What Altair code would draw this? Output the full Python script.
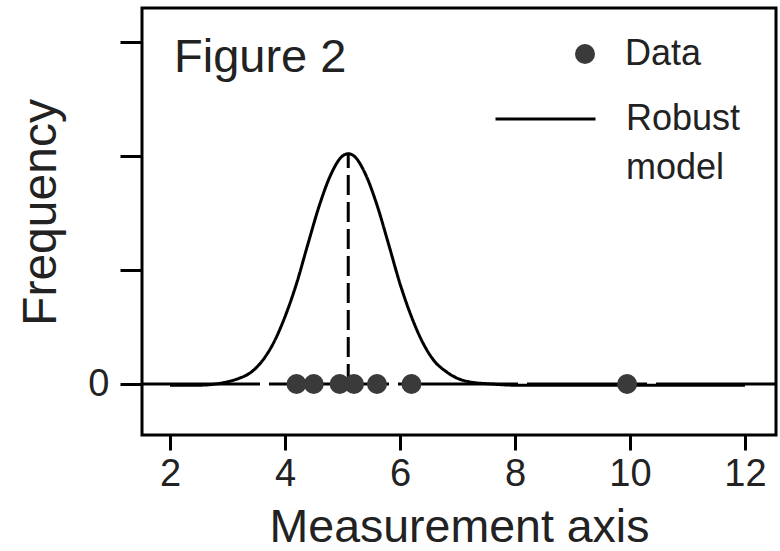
import altair as alt
import pandas as pd

# ---- values ----
curve_x = [2.0, 2.5, 3.0, 3.2, 3.4, 3.6, 3.8, 4.0, 4.2, 4.4, 4.6, 4.8, 5.0, 5.1,
           5.2, 5.4, 5.6, 5.8, 6.0, 6.2, 6.4, 6.6, 6.8, 7.0, 7.2, 7.6, 8.0, 9.0,
           10.0, 11.0, 12.0]
curve_y = [-0.01, -0.01, 0.02, 0.05, 0.10, 0.20, 0.36, 0.59, 0.88, 1.23, 1.57, 1.84,
           2.00, 2.02, 2.00, 1.84, 1.57, 1.23, 0.88, 0.59, 0.36, 0.20, 0.11, 0.05,
           0.02, 0.0, -0.01, -0.01, -0.01, -0.01, -0.01]
data_x = [4.2, 4.5, 4.95, 5.2, 5.6, 6.2, 9.95]
data_y = [0, 0, 0, 0, 0, 0, 0]
center_x = [5.1]
center_peak = [2.02]
zero_level = [0]
x_ticks = [2, 4, 6, 8, 10, 12]
y_ticks = [0, 1, 2, 3]
data_label = ["Data"]
model_label = ["Robust", "model"]

FONT = "Liberation Sans"
TXT = "#222222"

curve_df = pd.DataFrame({"x": curve_x, "y": curve_y, "series": [model_label[0]] * len(curve_x)})
points_df = pd.DataFrame({"x": data_x, "y": data_y, "series": data_label * len(data_x)})
center_df = pd.DataFrame({"x": center_x, "y": zero_level, "y2": center_peak})
zero_df = pd.DataFrame({"y": zero_level})

xscale = alt.Scale(domain=[1.513, 12.54], nice=False, zero=False)
yscale = alt.Scale(domain=[-0.447, 3.298], nice=False, zero=False)

xaxis = alt.Axis(values=x_ticks, title="Measurement axis", grid=False, domain=False,
                 tickSize=15, tickWidth=3, tickColor="black", format="d",
                 labelFont=FONT, labelFontSize=38, labelColor=TXT,
                 labelBaseline="alphabetic", labelPadding=35,
                 titleFont=FONT, titleFontSize=46.5, titleFontWeight="normal",
                 titleColor=TXT, titleY=106, titleBaseline="alphabetic")
yaxis = alt.Axis(values=y_ticks, title="Frequency", grid=False, domain=False,
                 tickSize=22, tickWidth=3, tickColor="black",
                 labelExpr="datum.value == 0 ? '0' : ''",
                 labelFont=FONT, labelFontSize=38, labelColor=TXT, labelPadding=11,
                 titleFont=FONT, titleFontSize=48, titleFontWeight="normal",
                 titleColor=TXT, titleX=-87, titleY=204, titleAngle=270,
                 titleAlign="center", titleBaseline="alphabetic")

X = alt.X("x:Q", scale=xscale, axis=xaxis)
Y = alt.Y("y:Q", scale=yscale, axis=yaxis)

zero_line = alt.Chart(zero_df).mark_rule(color="black", strokeWidth=3, strokeDash=[120, 9]).encode(y=Y)

center_line = alt.Chart(center_df).mark_rule(color="black", strokeWidth=3, strokeDash=[20, 7]).encode(
    x=X, y=Y, y2="y2:Q")

model_legend = alt.Legend(
    orient="none", legendX=385.5, legendY=93, direction="vertical", padding=0,
    symbolType="M-5,0H5", symbolSize=400, symbolStrokeWidth=3, symbolStrokeColor="black",
    labelFont=FONT, labelFontSize=36, labelColor=TXT, labelLimit=400,
    labelBaseline="middle", labelOffset=62.5, rowPadding=13)

curve = alt.Chart(curve_df).mark_line(color="black", strokeWidth=3, interpolate="monotone").encode(
    x=X, y=Y,
    strokeDash=alt.StrokeDash("series:N", title=None,
                              scale=alt.Scale(domain=model_label, range=[[1, 0], [0, 1000]]),
                              legend=model_legend))

data_legend = alt.Legend(
    orient="none", legendX=425, legendY=28, direction="vertical", padding=0,
    symbolType="circle", symbolSize=400, symbolStrokeWidth=0, symbolOpacity=1,
    labelFont=FONT, labelFontSize=36, labelColor=TXT, labelLimit=400,
    labelBaseline="middle", labelOffset=22)

points = alt.Chart(points_df).mark_point(filled=True, size=400, opacity=1).encode(
    x=X, y=Y,
    color=alt.Color("series:N", title=None,
                    scale=alt.Scale(domain=data_label, range=["#3a3a3a"]),
                    legend=data_legend))

chart = alt.layer(zero_line, curve, center_line, points).resolve_legend(
    color="independent", strokeDash="independent"
).properties(
    width=634, height=427,
    autosize=alt.AutoSizeParams(type="none"),
    padding={"left": 142, "top": 8, "right": 4, "bottom": 116},
    title=alt.TitleParams("Figure 2", anchor="start", frame="group", font=FONT, fontSize=47,
                          fontWeight="normal", color=TXT, baseline="alphabetic",
                          offset=0, dx=32, dy=111),
).configure_view(stroke="black", strokeWidth=3)

chart.save("out.html", embed_options={"renderer": "svg", "actions": False})
